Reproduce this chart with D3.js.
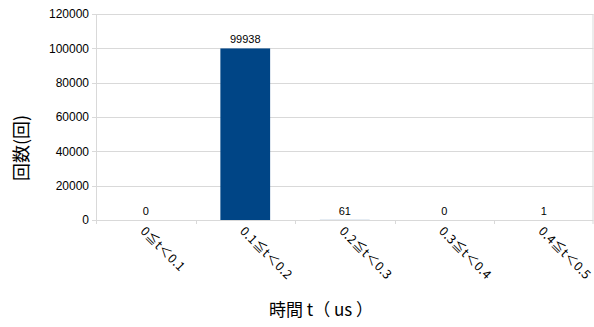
<!DOCTYPE html>
<html>
<head>
<meta charset="utf-8">
<script src="https://cdn.jsdelivr.net/npm/d3@7"></script>
<style>
  body { margin: 0; background: #fff; }
  text { font-family: "Liberation Sans", Arial, sans-serif; }
</style>
</head>
<body>
<div id="cont"></div>
<script>
var categories = ["0≦t＜0.1", "0.1≦t＜0.2", "0.2≦t＜0.3", "0.3≦t＜0.4", "0.4≦t＜0.5"];
var counts = [0, 99938, 61, 0, 1];
var yTicks = [0, 20000, 40000, 60000, 80000, 100000, 120000];

var chartW = 594, chartH = 327;
var plotLeft = 96, plotRight = 593.5, plotTop = 14, plotBottom = 220;

var svg = d3.select("#cont")
  .append("svg")
  .attr("width", chartW)
  .attr("height", chartH);

var x = d3.scaleBand()
  .domain(categories)
  .range([plotLeft, plotRight])
  .paddingInner(0.5)
  .paddingOuter(0.25);

var xEdge = d3.scaleLinear()
  .domain([0, categories.length])
  .range([plotLeft, plotRight]);

var y = d3.scaleLinear()
  .domain([0, 120000])
  .range([plotBottom, plotTop]);

// gridlines
svg.append("g")
  .selectAll("line")
  .data(yTicks)
  .enter()
  .append("line")
  .attr("x1", plotLeft - 4)
  .attr("x2", plotRight)
  .attr("y1", function(d) { return Math.round(y(d)) + 0.5; })
  .attr("y2", function(d) { return Math.round(y(d)) + 0.5; })
  .style("stroke", "#d9d9d9")
  .style("stroke-width", 1);

// y tick labels
svg.append("g")
  .selectAll("text")
  .data(yTicks)
  .enter()
  .append("text")
  .attr("x", plotLeft - 7)
  .attr("y", function(d) { return y(d); })
  .attr("dy", "0.35em")
  .attr("text-anchor", "end")
  .style("font-size", "12px")
  .text(function(d) { return d; });

// vertical axis line and right edge
svg.append("line")
  .attr("x1", plotLeft + 0.5).attr("x2", plotLeft + 0.5)
  .attr("y1", plotTop).attr("y2", plotBottom)
  .style("stroke", "#d9d9d9");
svg.append("line")
  .attr("x1", plotRight - 0.5).attr("x2", plotRight - 0.5)
  .attr("y1", plotTop).attr("y2", plotBottom + 4)
  .style("stroke", "#d9d9d9");

// x ticks at category edges
svg.append("g")
  .selectAll("line")
  .data(d3.range(categories.length + 1))
  .enter()
  .append("line")
  .attr("x1", function(d) { return Math.round(xEdge(d)) + 0.5; })
  .attr("x2", function(d) { return Math.round(xEdge(d)) + 0.5; })
  .attr("y1", plotBottom)
  .attr("y2", plotBottom + 4)
  .style("stroke", "#d9d9d9");

// bars
svg.append("g")
  .selectAll("rect")
  .data(counts)
  .enter()
  .append("rect")
  .attr("x", function(d, i) { return x(categories[i]); })
  .attr("width", x.bandwidth())
  .attr("y", function(d) { return y(d); })
  .attr("height", function(d) { return plotBottom - y(d); })
  .style("fill", "#004586");

// value labels
svg.append("g")
  .selectAll("text")
  .data(counts)
  .enter()
  .append("text")
  .attr("x", function(d, i) { return x(categories[i]) + x.bandwidth() / 2; })
  .attr("y", function(d) { return y(d) - 5; })
  .attr("text-anchor", "middle")
  .style("font-size", "11px")
  .text(function(d) { return d; });

// category labels, rotated
svg.append("g")
  .selectAll("text")
  .data(categories)
  .enter()
  .append("text")
  .attr("transform", function(d) {
    return "translate(" + (x(d) + x.bandwidth() / 2 - 3) + "," + (plotBottom + 9) + ") rotate(45)";
  })
  .attr("dy", "0.35em")
  .style("font-family", "'Noto Sans CJK JP', sans-serif")
  .style("font-size", "12.5px")
  .style("letter-spacing", "0.4px")
  .text(function(d) { return d; });

// axis titles
svg.append("text")
  .attr("transform", "translate(22,148) rotate(-90)")
  .attr("text-anchor", "middle")
  .attr("dy", "0.35em")
  .style("font-family", "'Noto Sans CJK JP', sans-serif")
  .style("font-size", "18px")
  .text("回数(回)");

svg.append("text")
  .attr("x", 321)
  .attr("y", 310)
  .attr("text-anchor", "middle")
  .attr("dy", "0.35em")
  .style("font-family", "'Noto Sans CJK JP', sans-serif")
  .style("font-size", "17px")
  .text("時間 t（ us ）");
</script>
</body>
</html>
